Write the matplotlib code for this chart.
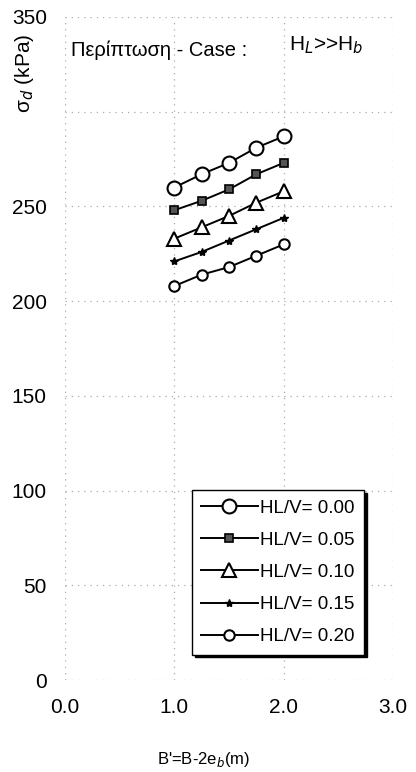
import numpy as np
import matplotlib.pyplot as plt

plt.rcParams['font.family'] = ['Liberation Sans', 'DejaVu Sans']

# B' = B - 2e_b (m)
b_eff = [1.0, 1.25, 1.5, 1.75, 2.0]

# sigma_d (kPa) for each HL/V ratio
sd_000 = [260, 267, 273, 281, 287]
sd_005 = [248, 253, 259, 267, 273]
sd_010 = [233, 239, 245, 252, 258]
sd_015 = [221, 226, 232, 238, 244]
sd_020 = [208, 214, 218, 224, 230]

labels = ['HL/V= 0.00', 'HL/V= 0.05', 'HL/V= 0.10', 'HL/V= 0.15', 'HL/V= 0.20']

x_ticks = [0.0, 1.0, 2.0, 3.0]
y_ticks = [0, 50, 100, 150, 200, 250, 300, 350]
# 300 label hidden behind the axis title in the original
y_ticklabels = ['0', '50', '100', '150', '200', '250', '', '350']

fig = plt.figure(figsize=(4.16, 7.72), dpi=100)
ax = fig.add_axes([0.156, 0.119, 0.789, 0.859])

series = [sd_000, sd_005, sd_010, sd_015, sd_020]
styles = [
    dict(marker='o', ms=10, mfc='white', mec='black', mew=1.5),
    dict(marker='s', ms=6, mfc='#555555', mec='black', mew=1.2),
    dict(marker='^', ms=10, mfc='white', mec='black', mew=1.5),
    dict(marker='*', ms=6, mfc='black', mec='black', mew=1.0),
    dict(marker='o', ms=7.5, mfc='white', mec='black', mew=1.5),
]
for vals, lab, st in zip(series, labels, styles):
    ax.plot(b_eff, vals, color='black', lw=1.4, label=lab, **st)

ax.set_xlim(0, 3)
ax.set_ylim(0, 350)
ax.set_xticks(x_ticks)
ax.set_xticklabels(['%.1f' % v for v in x_ticks])
ax.set_yticks(y_ticks)
ax.set_yticklabels(y_ticklabels)
ax.tick_params(length=0, labelsize=15, pad=13)
for s in ax.spines.values():
    s.set_visible(False)
ax.grid(True, linestyle=(0, (1, 4)), color='#aaaaaa', lw=0.9)

leg = ax.legend(loc='lower left', bbox_to_anchor=(0.37, 0.03), fontsize=13.5,
                frameon=True, fancybox=False, edgecolor='black',
                shadow={'facecolor': 'black', 'edgecolor': 'black', 'alpha': 1},
                handlelength=3.0, handletextpad=0.15, labelspacing=0.8,
                borderpad=0.5, borderaxespad=0.3)
leg.get_frame().set_linewidth(1.0)

fig.text(0.17, 0.935, 'Περίπτωση - Case :', fontsize=14.5, va='center', ha='left')
fig.text(0.695, 0.942, 'H$_L$>>H$_b$', fontsize=15, va='center', ha='left')
fig.text(0.06, 0.905, 'σ$_d$ (kPa)', fontsize=15, rotation=90, va='center', ha='center')
fig.text(0.49, 0.016, "B'=B-2e$_b$(m)", fontsize=12, va='center', ha='center')

fig.savefig('out.png', dpi=100)
